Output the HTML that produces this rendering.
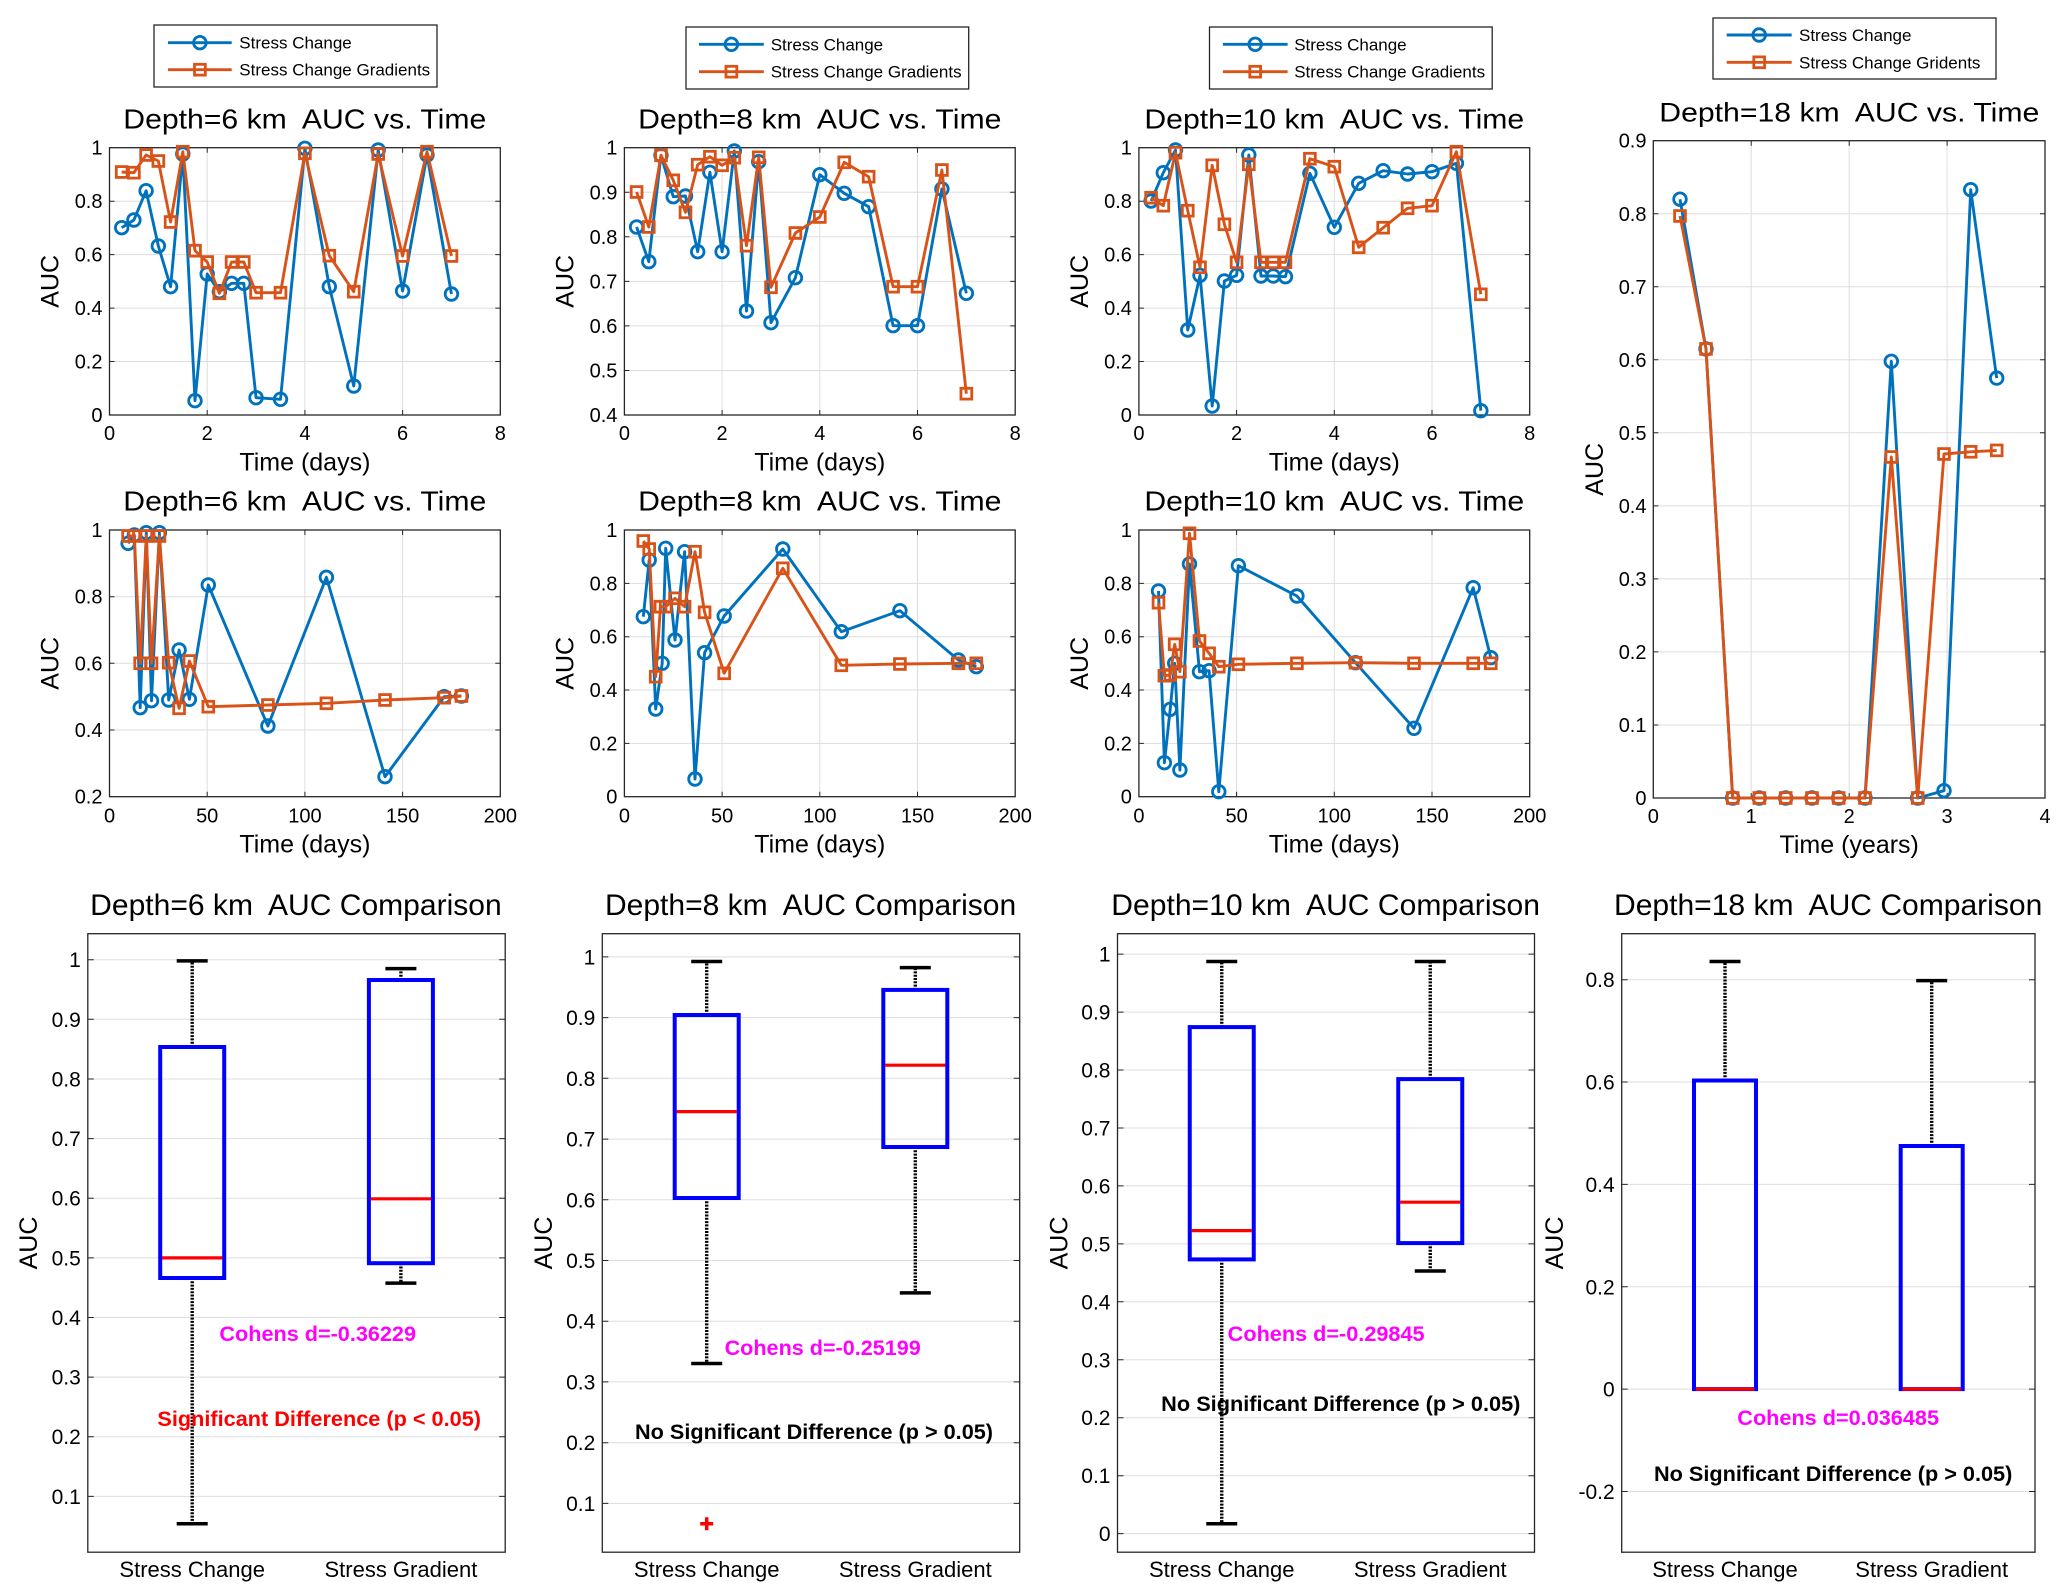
<!DOCTYPE html>
<html>
<head>
<meta charset="utf-8">
<style>
html,body{margin:0;padding:0;background:#fff;}
svg{display:block;font-family:"Liberation Sans",Arial,sans-serif;}
.grid{stroke:#dedede;stroke-width:1;fill:none;}
.tk{stroke:#262626;stroke-width:1;fill:none;}
.ax{stroke:#262626;stroke-width:1.3;fill:none;}
.tl{font-size:20px;fill:#000;}
.tlb{font-size:21px;fill:#000;}
.xl{font-size:25px;fill:#000;}
.tt{font-size:28px;fill:#000;white-space:pre;}
.tb{font-size:30px;fill:#000;white-space:pre;}
.lg{font-size:17px;fill:#000;}
.sb{stroke:#0072BD;stroke-width:2.9;fill:none;stroke-linejoin:round;marker-start:url(#mc);marker-mid:url(#mc);marker-end:url(#mc);}
.so{stroke:#D95319;stroke-width:2.9;fill:none;stroke-linejoin:round;marker-start:url(#ms);marker-mid:url(#ms);marker-end:url(#ms);}
.wh{stroke:#000;stroke-width:3.4;stroke-dasharray:2 1.3;fill:none;}
.cap{stroke:#000;stroke-width:3.5;fill:none;}
.bx{stroke:#0000FF;stroke-width:4;fill:none;}
.md{stroke:#FF0000;stroke-width:3.2;fill:none;}
.an{font-size:21px;font-weight:bold;}
</style>
</head>
<body>
<svg width="2067" height="1595" viewBox="0 0 2067 1595" xmlns="http://www.w3.org/2000/svg">
<defs>
<marker id="mc" markerUnits="userSpaceOnUse" markerWidth="20" markerHeight="20" refX="10" refY="10" overflow="visible"><circle cx="10" cy="10" r="6.3" fill="none" stroke="#0072BD" stroke-width="2.8"/></marker>
<marker id="ms" markerUnits="userSpaceOnUse" markerWidth="20" markerHeight="20" refX="10" refY="10" overflow="visible"><rect x="4.6" y="4.6" width="10.8" height="10.8" fill="none" stroke="#D95319" stroke-width="2.8"/></marker>
</defs>
<rect width="2067" height="1595" fill="#fff"/>

<!-- ================= LEGENDS ================= -->
<rect x="154" y="25" width="283" height="62" fill="#fff" stroke="#262626" stroke-width="1.3"/>
<polyline class="sb" points="168,42.7 199.9,42.7 231.7,42.7" style="marker-start:none;marker-end:none"/>
<polyline class="so" points="168,69.7 199.9,69.7 231.7,69.7" style="marker-start:none;marker-end:none"/>
<text class="lg" x="239.3" y="48.7">Stress Change</text>
<text class="lg" x="239.3" y="75.7">Stress Change Gradients</text>

<rect x="686" y="27" width="282.7" height="62" fill="#fff" stroke="#262626" stroke-width="1.3"/>
<polyline class="sb" points="699,44.3 731.4,44.3 763.8,44.3" style="marker-start:none;marker-end:none"/>
<polyline class="so" points="699,71.7 731.4,71.7 763.8,71.7" style="marker-start:none;marker-end:none"/>
<text class="lg" x="770.7" y="50.3">Stress Change</text>
<text class="lg" x="770.7" y="77.7">Stress Change Gradients</text>

<rect x="1209.5" y="27" width="282.7" height="62" fill="#fff" stroke="#262626" stroke-width="1.3"/>
<polyline class="sb" points="1222.9,44.3 1255.2,44.3 1287.6,44.3" style="marker-start:none;marker-end:none"/>
<polyline class="so" points="1222.9,71.7 1255.2,71.7 1287.6,71.7" style="marker-start:none;marker-end:none"/>
<text class="lg" x="1294.2" y="50.3">Stress Change</text>
<text class="lg" x="1294.2" y="77.7">Stress Change Gradients</text>

<rect x="1713" y="18" width="283" height="61" fill="#fff" stroke="#262626" stroke-width="1.3"/>
<polyline class="sb" points="1726.7,35 1759.2,35 1791.7,35" style="marker-start:none;marker-end:none"/>
<polyline class="so" points="1726.7,62.3 1759.2,62.3 1791.7,62.3" style="marker-start:none;marker-end:none"/>
<text class="lg" x="1799" y="41">Stress Change</text>
<text class="lg" x="1799" y="68.3">Stress Change Gridents</text>

<!-- ================= PANEL A (6 km days) ================= -->
<path class="grid" d="M207.2 147.7V415M304.9 147.7V415M402.6 147.7V415M109.5 361.5H500.3M109.5 308.1H500.3M109.5 254.6H500.3M109.5 201.2H500.3"/>
<path class="tk" d="M207.2 415v-5M304.9 415v-5M402.6 415v-5M207.2 147.7v5M304.9 147.7v5M402.6 147.7v5M109.5 361.5h5M109.5 308.1h5M109.5 254.6h5M109.5 201.2h5M500.3 361.5h-5M500.3 308.1h-5M500.3 254.6h-5M500.3 201.2h-5"/>
<rect class="ax" x="109.5" y="147.7" width="390.8" height="267.3"/>
<polyline class="sb" points="121.7,227.7 133.9,220 146.1,190.7 158.35,246 170.6,286.7 182.8,154 195,400.7 207.2,274 219.4,291.7 231.6,283.3 243.8,283.3 256.05,397.7 280.5,399.3 304.9,148.3 329.3,286.7 353.75,386 378.2,150 402.6,291 427,155 451.45,294"/>
<polyline class="so" points="121.7,172 133.9,172.7 146.1,155 158.35,161 170.6,222 182.8,151.7 195,250.7 207.2,262 219.4,293.3 231.6,262 243.8,262 256.05,292.7 280.5,292.7 304.9,153.3 329.3,255.7 353.75,291.7 378.2,154 402.6,256 427,151.7 451.45,256"/>
<g class="tl" text-anchor="end">
<text x="102.5" y="422">0</text><text x="102.5" y="368.5">0.2</text><text x="102.5" y="315.1">0.4</text><text x="102.5" y="261.6">0.6</text><text x="102.5" y="208.2">0.8</text><text x="102.5" y="154.7">1</text>
</g>
<g class="tl" text-anchor="middle">
<text x="109.5" y="440">0</text><text x="207.2" y="440">2</text><text x="304.9" y="440">4</text><text x="402.6" y="440">6</text><text x="500.3" y="440">8</text>
</g>
<text class="xl" x="304.9" y="470.4" text-anchor="middle">Time (days)</text>
<text class="xl" transform="translate(58.5,281.3) rotate(-90)" text-anchor="middle">AUC</text>
<text class="tt" x="123.3" y="128.3" textLength="363" lengthAdjust="spacingAndGlyphs">Depth=6 km  AUC vs. Time</text>

<!-- ================= PANEL B (8 km days) ================= -->
<path class="grid" d="M722.1 147.7V415M819.8 147.7V415M917.5 147.7V415M624.4 370.45H1015.2M624.4 325.9H1015.2M624.4 281.35H1015.2M624.4 236.8H1015.2M624.4 192.25H1015.2"/>
<path class="tk" d="M722.1 415v-5M819.8 415v-5M917.5 415v-5M722.1 147.7v5M819.8 147.7v5M917.5 147.7v5M624.4 370.45h5M624.4 325.9h5M624.4 281.35h5M624.4 236.8h5M624.4 192.25h5M1015.2 370.45h-5M1015.2 325.9h-5M1015.2 281.35h-5M1015.2 236.8h-5M1015.2 192.25h-5"/>
<rect class="ax" x="624.4" y="147.7" width="390.8" height="267.3"/>
<polyline class="sb" points="636.6,227 648.8,261.7 661,155.3 673.25,196.7 685.5,196 697.7,251.7 709.9,172.3 722.1,251.7 734.3,151 746.5,311 758.7,161.7 771,322.7 795.4,277.7 819.8,174.7 844.2,193.3 868.65,206.7 893.1,325.7 917.5,325.7 941.9,189 966.35,293.3"/>
<polyline class="so" points="636.6,192 648.8,227 661,155.3 673.25,180.3 685.5,212.3 697.7,164.7 709.9,156.7 722.1,165.3 734.3,157.7 746.5,245.7 758.7,157.3 771,287.3 795.4,233 819.8,217 844.2,162.3 868.65,176.7 893.1,286.7 917.5,286.7 941.9,170 966.35,393.7"/>
<g class="tl" text-anchor="end">
<text x="617.4" y="422">0.4</text><text x="617.4" y="377.5">0.5</text><text x="617.4" y="332.9">0.6</text><text x="617.4" y="288.4">0.7</text><text x="617.4" y="243.8">0.8</text><text x="617.4" y="199.3">0.9</text><text x="617.4" y="154.7">1</text>
</g>
<g class="tl" text-anchor="middle">
<text x="624.4" y="440">0</text><text x="722.1" y="440">2</text><text x="819.8" y="440">4</text><text x="917.5" y="440">6</text><text x="1015.2" y="440">8</text>
</g>
<text class="xl" x="819.8" y="470.4" text-anchor="middle">Time (days)</text>
<text class="xl" transform="translate(573.4,281.3) rotate(-90)" text-anchor="middle">AUC</text>
<text class="tt" x="638.1" y="128.3" textLength="363.3" lengthAdjust="spacingAndGlyphs">Depth=8 km  AUC vs. Time</text>

<!-- ================= PANEL C (10 km days) ================= -->
<path class="grid" d="M1236.6 147.7V415M1334.3 147.7V415M1432 147.7V415M1138.9 361.5H1529.7M1138.9 308.1H1529.7M1138.9 254.6H1529.7M1138.9 201.2H1529.7"/>
<path class="tk" d="M1236.6 415v-5M1334.3 415v-5M1432 415v-5M1236.6 147.7v5M1334.3 147.7v5M1432 147.7v5M1138.9 361.5h5M1138.9 308.1h5M1138.9 254.6h5M1138.9 201.2h5M1529.7 361.5h-5M1529.7 308.1h-5M1529.7 254.6h-5M1529.7 201.2h-5"/>
<rect class="ax" x="1138.9" y="147.7" width="390.8" height="267.3"/>
<polyline class="sb" points="1151.1,201 1163.3,172.7 1175.5,150 1187.75,330 1200,275.3 1212.2,406 1224.4,281 1236.6,275.3 1248.8,155 1261,276 1273.2,276 1285.45,276.7 1309.9,173.3 1334.3,227.3 1358.7,183.3 1383.15,170.7 1407.6,174 1432,171.7 1456.4,163.3 1480.85,410.7"/>
<polyline class="so" points="1151.1,197.7 1163.3,205.7 1175.5,152.7 1187.75,210.7 1200,267.3 1212.2,165.3 1224.4,224.3 1236.6,262.3 1248.8,164.3 1261,262.3 1273.2,262.3 1285.45,262.3 1309.9,158.7 1334.3,166.7 1358.7,247.3 1383.15,227.7 1407.6,208.3 1432,205.7 1456.4,151.7 1480.85,294.3"/>
<g class="tl" text-anchor="end">
<text x="1131.9" y="422">0</text><text x="1131.9" y="368.5">0.2</text><text x="1131.9" y="315.1">0.4</text><text x="1131.9" y="261.6">0.6</text><text x="1131.9" y="208.2">0.8</text><text x="1131.9" y="154.7">1</text>
</g>
<g class="tl" text-anchor="middle">
<text x="1138.9" y="440">0</text><text x="1236.6" y="440">2</text><text x="1334.3" y="440">4</text><text x="1432" y="440">6</text><text x="1529.7" y="440">8</text>
</g>
<text class="xl" x="1334.3" y="470.4" text-anchor="middle">Time (days)</text>
<text class="xl" transform="translate(1088,281.3) rotate(-90)" text-anchor="middle">AUC</text>
<text class="tt" x="1144.4" y="128.3" textLength="379.8" lengthAdjust="spacingAndGlyphs">Depth=10 km  AUC vs. Time</text>

<!-- ================= PANEL D (6 km, 200 days) ================= -->
<path class="grid" d="M207.2 530V796.7M304.9 530V796.7M402.6 530V796.7M109.5 730H500.3M109.5 663.3H500.3M109.5 596.7H500.3"/>
<path class="tk" d="M207.2 796.7v-5M304.9 796.7v-5M402.6 796.7v-5M207.2 530v5M304.9 530v5M402.6 530v5M109.5 730h5M109.5 663.3h5M109.5 596.7h5M500.3 730h-5M500.3 663.3h-5M500.3 596.7h-5"/>
<rect class="ax" x="109.5" y="530" width="390.8" height="266.7"/>
<polyline class="sb" points="128.1,543.3 134.3,535 140.2,707.7 146.3,532.7 151.5,700.7 159.4,532.7 168.7,700 179.1,650 189.4,699.3 208.3,585 267.9,726 326.4,577.3 385,776.7 444.2,696.7 461.4,696"/>
<polyline class="so" points="128.1,536 134.3,536 140.2,663.3 146.3,536 151.5,663.3 159.4,536 168.7,662.7 179.1,708.3 189.4,661 208.3,706.7 267.9,705 326.4,703.3 385,700 444.2,697.7 461.4,696"/>
<g class="tl" text-anchor="end">
<text x="102.5" y="803.7">0.2</text><text x="102.5" y="737">0.4</text><text x="102.5" y="670.3">0.6</text><text x="102.5" y="603.7">0.8</text><text x="102.5" y="537">1</text>
</g>
<g class="tl" text-anchor="middle">
<text x="109.5" y="822.7">0</text><text x="207.2" y="822.7">50</text><text x="304.9" y="822.7">100</text><text x="402.6" y="822.7">150</text><text x="500.3" y="822.7">200</text>
</g>
<text class="xl" x="304.9" y="852.7" text-anchor="middle">Time (days)</text>
<text class="xl" transform="translate(58.5,663.3) rotate(-90)" text-anchor="middle">AUC</text>
<text class="tt" x="123.3" y="510.7" textLength="363" lengthAdjust="spacingAndGlyphs">Depth=6 km  AUC vs. Time</text>

<!-- ================= PANEL E (8 km, 200 days) ================= -->
<path class="grid" d="M722.1 530V796.7M819.8 530V796.7M917.5 530V796.7M624.4 743.4H1015.2M624.4 690H1015.2M624.4 636.7H1015.2M624.4 583.4H1015.2"/>
<path class="tk" d="M722.1 796.7v-5M819.8 796.7v-5M917.5 796.7v-5M722.1 530v5M819.8 530v5M917.5 530v5M624.4 743.4h5M624.4 690h5M624.4 636.7h5M624.4 583.4h5M1015.2 743.4h-5M1015.2 690h-5M1015.2 636.7h-5M1015.2 583.4h-5"/>
<rect class="ax" x="624.4" y="530" width="390.8" height="266.7"/>
<polyline class="sb" points="643.3,616.7 649.2,560 655.7,709 662.2,663.3 665.7,548.3 675,640 684.6,551.7 695,779 704.6,652.7 724.2,616 782.8,549 841.3,631.7 899.9,610.7 958.4,660 976.3,666.7"/>
<polyline class="so" points="643.3,541 649.2,549 655.7,676.7 660.5,606.7 665.7,606.7 675,598.3 684.6,606.7 695,551.7 704.6,612.3 724.2,673.3 782.8,568.3 841.3,665.3 899.9,664 958.4,663.3 976.3,663.3"/>
<g class="tl" text-anchor="end">
<text x="617.4" y="803.7">0</text><text x="617.4" y="750.4">0.2</text><text x="617.4" y="697">0.4</text><text x="617.4" y="643.7">0.6</text><text x="617.4" y="590.4">0.8</text><text x="617.4" y="537">1</text>
</g>
<g class="tl" text-anchor="middle">
<text x="624.4" y="822.7">0</text><text x="722.1" y="822.7">50</text><text x="819.8" y="822.7">100</text><text x="917.5" y="822.7">150</text><text x="1015.2" y="822.7">200</text>
</g>
<text class="xl" x="819.8" y="852.7" text-anchor="middle">Time (days)</text>
<text class="xl" transform="translate(573.4,663.3) rotate(-90)" text-anchor="middle">AUC</text>
<text class="tt" x="638.1" y="510.7" textLength="363.3" lengthAdjust="spacingAndGlyphs">Depth=8 km  AUC vs. Time</text>

<!-- ================= PANEL F (10 km, 200 days) ================= -->
<path class="grid" d="M1236.6 530V796.7M1334.3 530V796.7M1432 530V796.7M1138.9 743.4H1529.7M1138.9 690H1529.7M1138.9 636.7H1529.7M1138.9 583.4H1529.7"/>
<path class="tk" d="M1236.6 796.7v-5M1334.3 796.7v-5M1432 796.7v-5M1236.6 530v5M1334.3 530v5M1432 530v5M1138.9 743.4h5M1138.9 690h5M1138.9 636.7h5M1138.9 583.4h5M1529.7 743.4h-5M1529.7 690h-5M1529.7 636.7h-5M1529.7 583.4h-5"/>
<rect class="ax" x="1138.9" y="530" width="390.8" height="266.7"/>
<polyline class="sb" points="1158.5,591 1164.4,762.7 1170.2,709.3 1174.7,663.3 1179.9,770 1189.5,564 1199.5,671.7 1209.1,670.7 1218.8,791.7 1238.4,565.7 1296.9,596 1355.5,662.7 1414,728.3 1473.2,587.7 1490.8,657.7"/>
<polyline class="so" points="1158.5,602.7 1164.4,675.7 1170.2,675 1174.7,644.3 1179.9,671.7 1189.5,533.3 1199.5,641 1209.1,653.3 1218.8,666.7 1238.4,664.3 1296.9,663.3 1355.5,662.7 1414,663.3 1473.2,663.3 1490.8,663.3"/>
<g class="tl" text-anchor="end">
<text x="1131.9" y="803.7">0</text><text x="1131.9" y="750.4">0.2</text><text x="1131.9" y="697">0.4</text><text x="1131.9" y="643.7">0.6</text><text x="1131.9" y="590.4">0.8</text><text x="1131.9" y="537">1</text>
</g>
<g class="tl" text-anchor="middle">
<text x="1138.9" y="822.7">0</text><text x="1236.6" y="822.7">50</text><text x="1334.3" y="822.7">100</text><text x="1432" y="822.7">150</text><text x="1529.7" y="822.7">200</text>
</g>
<text class="xl" x="1334.3" y="852.7" text-anchor="middle">Time (days)</text>
<text class="xl" transform="translate(1088,663.3) rotate(-90)" text-anchor="middle">AUC</text>
<text class="tt" x="1144.4" y="510.7" textLength="379.8" lengthAdjust="spacingAndGlyphs">Depth=10 km  AUC vs. Time</text>

<!-- ================= PANEL G (18 km, years) ================= -->
<path class="grid" d="M1751.2 140.7V798M1849.2 140.7V798M1947.1 140.7V798M1653.3 725H2045M1653.3 651.9H2045M1653.3 578.9H2045M1653.3 505.9H2045M1653.3 432.8H2045M1653.3 359.8H2045M1653.3 286.8H2045M1653.3 213.8H2045"/>
<path class="tk" d="M1751.2 798v-5M1849.2 798v-5M1947.1 798v-5M1751.2 140.7v5M1849.2 140.7v5M1947.1 140.7v5M1653.3 725h5M1653.3 651.9h5M1653.3 578.9h5M1653.3 505.9h5M1653.3 432.8h5M1653.3 359.8h5M1653.3 286.8h5M1653.3 213.8h5M2045 725h-5M2045 651.9h-5M2045 578.9h-5M2045 505.9h-5M2045 432.8h-5M2045 359.8h-5M2045 286.8h-5M2045 213.8h-5"/>
<rect class="ax" x="1653.3" y="140.7" width="391.7" height="657.3"/>
<polyline class="sb" points="1680,199.2 1706,348.9 1732.7,798 1759.3,798 1785.7,798 1812,798 1838.7,798 1865,798 1891.3,361.3 1917.7,798 1944,790.7 1970.7,189.7 1996.7,378.1"/>
<polyline class="so" points="1680,216 1706,348.9 1732.7,798 1759.3,798 1785.7,798 1812,798 1838.7,798 1865,798 1891.3,457 1917.7,798 1944,454 1970.7,451.8 1996.7,450.4"/>
<g class="tl" text-anchor="end">
<text x="1646.5" y="805">0</text><text x="1646.5" y="732">0.1</text><text x="1646.5" y="658.9">0.2</text><text x="1646.5" y="585.9">0.3</text><text x="1646.5" y="512.9">0.4</text><text x="1646.5" y="439.8">0.5</text><text x="1646.5" y="366.8">0.6</text><text x="1646.5" y="293.8">0.7</text><text x="1646.5" y="220.8">0.8</text><text x="1646.5" y="147.7">0.9</text>
</g>
<g class="tl" text-anchor="middle">
<text x="1653.3" y="823">0</text><text x="1751.2" y="823">1</text><text x="1849.2" y="823">2</text><text x="1947.1" y="823">3</text><text x="2045" y="823">4</text>
</g>
<text class="xl" x="1849.2" y="853" text-anchor="middle">Time (years)</text>
<text class="xl" transform="translate(1603,469.3) rotate(-90)" text-anchor="middle">AUC</text>
<text class="tt" x="1659.3" y="121.7" textLength="380" lengthAdjust="spacingAndGlyphs" style="font-size:27px">Depth=18 km  AUC vs. Time</text>

<!-- ================= BOX PANEL 1 ================= -->
<path class="grid" d="M87.8 959.7H505.2M87.8 1019.3H505.2M87.8 1079H505.2M87.8 1138.6H505.2M87.8 1198.2H505.2M87.8 1257.9H505.2M87.8 1317.5H505.2M87.8 1377.1H505.2M87.8 1436.7H505.2M87.8 1496.4H505.2"/>
<path class="tk" d="M87.8 959.7h6M87.8 1019.3h6M87.8 1079h6M87.8 1138.6h6M87.8 1198.2h6M87.8 1257.9h6M87.8 1317.5h6M87.8 1377.1h6M87.8 1436.7h6M87.8 1496.4h6M505.2 959.7h-6M505.2 1019.3h-6M505.2 1079h-6M505.2 1138.6h-6M505.2 1198.2h-6M505.2 1257.9h-6M505.2 1317.5h-6M505.2 1377.1h-6M505.2 1436.7h-6M505.2 1496.4h-6"/>
<rect class="ax" x="87.8" y="933.7" width="417.4" height="618.5"/>
<path class="wh" d="M192.2 1047V960.9M192.2 1278V1523.8M400.9 980V968.6M400.9 1263.2V1283.1"/>
<path class="cap" d="M176.7 960.9H207.7M176.7 1523.8H207.7M385.4 968.6H416.4M385.4 1283.1H416.4"/>
<rect class="bx" x="160.2" y="1047" width="64" height="231"/>
<rect class="bx" x="368.9" y="980" width="64" height="283.2"/>
<path class="md" d="M162 1257.9H222.4M370.7 1198.8H431.1"/>
<g class="tlb" text-anchor="end">
<text x="80.8" y="967.2">1</text><text x="80.8" y="1026.8">0.9</text><text x="80.8" y="1086.5">0.8</text><text x="80.8" y="1146.1">0.7</text><text x="80.8" y="1205.7">0.6</text><text x="80.8" y="1265.4">0.5</text><text x="80.8" y="1325">0.4</text><text x="80.8" y="1384.6">0.3</text><text x="80.8" y="1444.2">0.2</text><text x="80.8" y="1503.9">0.1</text>
</g>
<g style="font-size:22px" text-anchor="middle">
<text x="192.2" y="1577.2">Stress Change</text><text x="400.9" y="1577.2">Stress Gradient</text>
</g>
<text class="xl" transform="translate(37.2,1243) rotate(-90)" text-anchor="middle">AUC</text>
<text class="tb" x="90.2" y="915" textLength="411.5" lengthAdjust="spacingAndGlyphs">Depth=6 km  AUC Comparison</text>
<text class="an" x="219.4" y="1341" fill="#FF00FF" textLength="196.6" lengthAdjust="spacingAndGlyphs">Cohens d=-0.36229</text>
<text class="an" x="157.4" y="1426" fill="#FF0000" textLength="323.6" lengthAdjust="spacingAndGlyphs">Significant Difference (p &lt; 0.05)</text>

<!-- ================= BOX PANEL 2 ================= -->
<path class="grid" d="M602.3 956.9H1019.7M602.3 1017.6H1019.7M602.3 1078.3H1019.7M602.3 1139.1H1019.7M602.3 1199.8H1019.7M602.3 1260.5H1019.7M602.3 1321.2H1019.7M602.3 1381.9H1019.7M602.3 1442.7H1019.7M602.3 1503.4H1019.7"/>
<path class="tk" d="M602.3 956.9h6M602.3 1017.6h6M602.3 1078.3h6M602.3 1139.1h6M602.3 1199.8h6M602.3 1260.5h6M602.3 1321.2h6M602.3 1381.9h6M602.3 1442.7h6M602.3 1503.4h6M1019.7 956.9h-6M1019.7 1017.6h-6M1019.7 1078.3h-6M1019.7 1139.1h-6M1019.7 1199.8h-6M1019.7 1260.5h-6M1019.7 1321.2h-6M1019.7 1381.9h-6M1019.7 1442.7h-6M1019.7 1503.4h-6"/>
<rect class="ax" x="602.3" y="933.7" width="417.4" height="618.5"/>
<path class="wh" d="M706.7 1015V961.5M706.7 1198V1363.5M915.3 989.9V967.6M915.3 1147V1292.9"/>
<path class="cap" d="M691.2 961.5H722.2M691.2 1363.5H722.2M899.8 967.6H930.8M899.8 1292.9H930.8"/>
<rect class="bx" x="674.7" y="1015" width="64" height="183"/>
<rect class="bx" x="883.3" y="989.9" width="64" height="157.1"/>
<path class="md" d="M676.5 1111.6H736.9M885.1 1065.2H945.5"/>
<path d="M700.2 1523.8H713.2M706.7 1517.3V1530.3" stroke="#FF0000" stroke-width="3.5" fill="none"/>
<g class="tlb" text-anchor="end">
<text x="595.3" y="964.4">1</text><text x="595.3" y="1025.1">0.9</text><text x="595.3" y="1085.8">0.8</text><text x="595.3" y="1146.6">0.7</text><text x="595.3" y="1207.3">0.6</text><text x="595.3" y="1268">0.5</text><text x="595.3" y="1328.7">0.4</text><text x="595.3" y="1389.4">0.3</text><text x="595.3" y="1450.2">0.2</text><text x="595.3" y="1510.9">0.1</text>
</g>
<g style="font-size:22px" text-anchor="middle">
<text x="706.7" y="1577.2">Stress Change</text><text x="915.3" y="1577.2">Stress Gradient</text>
</g>
<text class="xl" transform="translate(552,1243) rotate(-90)" text-anchor="middle">AUC</text>
<text class="tb" x="605" y="915" textLength="411.2" lengthAdjust="spacingAndGlyphs">Depth=8 km  AUC Comparison</text>
<text class="an" x="724.6" y="1355" fill="#FF00FF" textLength="196.2" lengthAdjust="spacingAndGlyphs">Cohens d=-0.25199</text>
<text class="an" x="635" y="1439" fill="#000" textLength="358" lengthAdjust="spacingAndGlyphs">No Significant Difference (p &gt; 0.05)</text>

<!-- ================= BOX PANEL 3 ================= -->
<path class="grid" d="M1117.5 954.1H1534.5M1117.5 1012.1H1534.5M1117.5 1070H1534.5M1117.5 1128H1534.5M1117.5 1185.9H1534.5M1117.5 1243.9H1534.5M1117.5 1301.8H1534.5M1117.5 1359.8H1534.5M1117.5 1417.7H1534.5M1117.5 1475.7H1534.5M1117.5 1533.6H1534.5"/>
<path class="tk" d="M1117.5 954.1h6M1117.5 1012.1h6M1117.5 1070h6M1117.5 1128h6M1117.5 1185.9h6M1117.5 1243.9h6M1117.5 1301.8h6M1117.5 1359.8h6M1117.5 1417.7h6M1117.5 1475.7h6M1117.5 1533.6h6M1534.5 954.1h-6M1534.5 1012.1h-6M1534.5 1070h-6M1534.5 1128h-6M1534.5 1185.9h-6M1534.5 1243.9h-6M1534.5 1301.8h-6M1534.5 1359.8h-6M1534.5 1417.7h-6M1534.5 1475.7h-6M1534.5 1533.6h-6"/>
<rect class="ax" x="1117.5" y="933.7" width="417" height="618.5"/>
<path class="wh" d="M1221.75 1027.1V961.5M1221.75 1259.4V1523.8M1430.25 1079.1V961.5M1430.25 1243.1V1271"/>
<path class="cap" d="M1206.25 961.5H1237.25M1206.25 1523.8H1237.25M1414.75 961.5H1445.75M1414.75 1271H1445.75"/>
<rect class="bx" x="1189.75" y="1027.1" width="64" height="232.3"/>
<rect class="bx" x="1398.25" y="1079.1" width="64" height="164"/>
<path class="md" d="M1191.55 1230.6H1251.95M1400.05 1202.2H1460.45"/>
<g class="tlb" text-anchor="end">
<text x="1110.5" y="961.6">1</text><text x="1110.5" y="1019.6">0.9</text><text x="1110.5" y="1077.5">0.8</text><text x="1110.5" y="1135.5">0.7</text><text x="1110.5" y="1193.4">0.6</text><text x="1110.5" y="1251.4">0.5</text><text x="1110.5" y="1309.3">0.4</text><text x="1110.5" y="1367.3">0.3</text><text x="1110.5" y="1425.2">0.2</text><text x="1110.5" y="1483.2">0.1</text><text x="1110.5" y="1541.1">0</text>
</g>
<g style="font-size:22px" text-anchor="middle">
<text x="1221.75" y="1577.2">Stress Change</text><text x="1430.25" y="1577.2">Stress Gradient</text>
</g>
<text class="xl" transform="translate(1067.5,1243) rotate(-90)" text-anchor="middle">AUC</text>
<text class="tb" x="1111.3" y="915" textLength="428.7" lengthAdjust="spacingAndGlyphs">Depth=10 km  AUC Comparison</text>
<text class="an" x="1227.7" y="1341" fill="#FF00FF" textLength="196.9" lengthAdjust="spacingAndGlyphs">Cohens d=-0.29845</text>
<text class="an" x="1161.2" y="1411" fill="#000" textLength="359.2" lengthAdjust="spacingAndGlyphs">No Significant Difference (p &gt; 0.05)</text>

<!-- ================= BOX PANEL 4 ================= -->
<path class="grid" d="M1621.7 979.7H2035M1621.7 1082.05H2035M1621.7 1184.4H2035M1621.7 1286.75H2035M1621.7 1389.1H2035M1621.7 1491.45H2035"/>
<path class="tk" d="M1621.7 979.7h6M1621.7 1082.05h6M1621.7 1184.4h6M1621.7 1286.75h6M1621.7 1389.1h6M1621.7 1491.45h6M2035 979.7h-6M2035 1082.05h-6M2035 1184.4h-6M2035 1286.75h-6M2035 1389.1h-6M2035 1491.45h-6"/>
<rect class="ax" x="1621.7" y="933.7" width="413.3" height="618.5"/>
<path class="wh" d="M1725 1080.5V961.5M1931.7 1146V980.6"/>
<path class="cap" d="M1709.5 961.5H1740.5M1916.2 980.6H1947.2"/>
<rect class="bx" x="1694" y="1080.5" width="62" height="308.6"/>
<rect class="bx" x="1900.7" y="1146" width="62" height="243.1"/>
<path class="md" d="M1695.8 1389.1H1754.2M1902.5 1389.1H1960.9"/>
<g class="tlb" text-anchor="end">
<text x="1614.7" y="987.2">0.8</text><text x="1614.7" y="1089.55">0.6</text><text x="1614.7" y="1191.9">0.4</text><text x="1614.7" y="1294.25">0.2</text><text x="1614.7" y="1396.6">0</text><text x="1614.7" y="1498.95">-0.2</text>
</g>
<g style="font-size:22px" text-anchor="middle">
<text x="1725" y="1577.2">Stress Change</text><text x="1931.7" y="1577.2">Stress Gradient</text>
</g>
<text class="xl" transform="translate(1563,1243) rotate(-90)" text-anchor="middle">AUC</text>
<text class="tb" x="1614" y="915" textLength="428.3" lengthAdjust="spacingAndGlyphs">Depth=18 km  AUC Comparison</text>
<text class="an" x="1737.3" y="1425" fill="#FF00FF" textLength="201.7" lengthAdjust="spacingAndGlyphs">Cohens d=0.036485</text>
<text class="an" x="1654" y="1481" fill="#000" textLength="358.3" lengthAdjust="spacingAndGlyphs">No Significant Difference (p &gt; 0.05)</text>
</svg>
</body>
</html>
